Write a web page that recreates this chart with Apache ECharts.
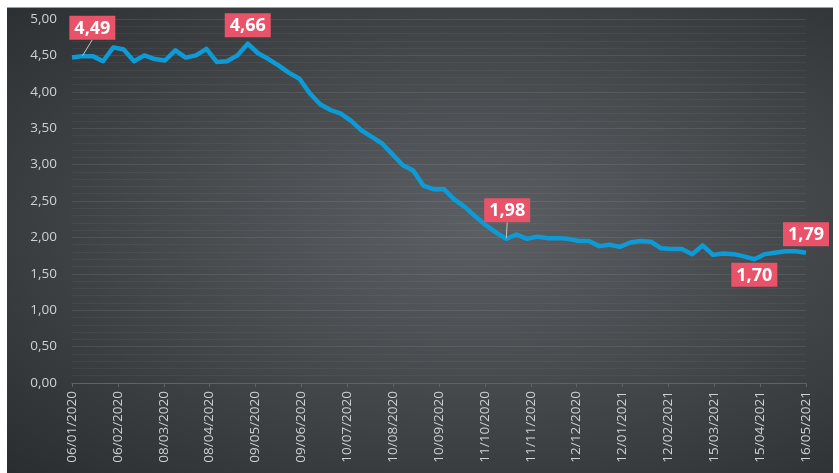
<!DOCTYPE html>
<html>
<head>
<meta charset="utf-8">
<script src="https://cdn.jsdelivr.net/npm/echarts@6/dist/echarts.min.js"></script>
<style>
  html, body { margin: 0; padding: 0; background: #fff; }
  #panel {
    position: absolute; left: 7px; top: 7px; width: 826px; height: 466px;
    border-top: 1px solid #a0a0a0;
    background: radial-gradient(ellipse at 57% 47%, #5b5f63 0%, #474a4d 45%, #2a2d30 100%);
  }
  #chart { position: absolute; left: 0; top: 0; width: 839px; height: 473px; }
</style>
</head>
<body>
<div id="panel"></div>
<div id="chart"></div>
<script>
// weekly values, first week starts 06/01/2020
const values = [
  4.47, 4.49, 4.49, 4.42, 4.61, 4.58, 4.42, 4.50, 4.45, 4.43,
  4.57, 4.47, 4.50, 4.59, 4.41, 4.42, 4.50, 4.66, 4.53, 4.45,
  4.36, 4.26, 4.18, 3.98, 3.83, 3.75, 3.70, 3.60, 3.47, 3.38,
  3.29, 3.14, 2.99, 2.92, 2.71, 2.66, 2.66, 2.52, 2.42, 2.29,
  2.17, 2.07, 1.98, 2.04, 1.98, 2.01, 1.99, 1.99, 1.98, 1.95,
  1.95, 1.88, 1.90, 1.87, 1.93, 1.95, 1.94, 1.85, 1.84, 1.84,
  1.77, 1.89, 1.76, 1.78, 1.77, 1.74, 1.70, 1.77, 1.79, 1.81,
  1.81, 1.79
];
const weeks = values.map((v, i) => "W" + (i + 1));
// points that get a value callout
const calloutIdx = [1, 17, 42, 66, 71];
// x tick labels every 31 days from the start date
const startDate = Date.UTC(2020, 0, 6);
const dayMax = 496;
const dayStep = 31;

const fmt = v => v.toFixed(2).replace(".", ",");

function dayLabel(d) {
  const t = new Date(startDate + d * 86400000);
  const dd = String(t.getUTCDate()).padStart(2, "0");
  const mm = String(t.getUTCMonth() + 1).padStart(2, "0");
  return dd + "/" + mm + "/" + t.getUTCFullYear();
}

function callout(i, v) {
  const label = {
    show: true,
    formatter: p => fmt(p.value),
    color: "#fff",
    fontSize: 18,
    fontWeight: "bold",
    fontFamily: "Open Sans, sans-serif",
    backgroundColor: "#e8536a",
    padding: [4, 5, 2, 5],
    position: "top",
    distance: 6,
  };
  let leader = false;
  if (i === 66) {
    label.position = "bottom";
    label.distance = 3;
  } else if (i === 1 || i === 42) {
    label.distance = 16;
    leader = true;
  }
  return {
    value: v,
    label: label,
    labelLine: { show: leader, lineStyle: { color: "#c4c4c4", width: 1 } },
  };
}

const seriesData = values.map((v, i) =>
  calloutIdx.includes(i) ? callout(i, v) : v
);

const chart = echarts.init(document.getElementById("chart"), null, { renderer: "canvas" });
chart.setOption({
  backgroundColor: "transparent",
  animation: false,
  textStyle: { fontFamily: "Open Sans, sans-serif" },
  grid: { left: 72, right: 33, top: 19, bottom: 90 },
  xAxis: [
    {
      type: "value",
      min: 0,
      max: dayMax,
      interval: dayStep,
      position: "bottom",
      splitLine: { show: false },
      axisLine: { show: true, lineStyle: { color: "#5f6367", width: 1 } },
      axisTick: { show: true, length: 4, lineStyle: { color: "#5f6367" } },
      axisLabel: {
        rotate: 90,
        color: "#cfd1d3",
        fontSize: 13.5,
        margin: 8,
        formatter: dayLabel,
      },
    },
    {
      type: "category",
      data: weeks,
      boundaryGap: false,
      show: false,
    },
  ],
  yAxis: {
    type: "value",
    min: 0,
    max: 5,
    interval: 0.5,
    axisLine: { show: false },
    axisTick: { show: false },
    axisLabel: {
      color: "#cfd1d3",
      fontSize: 13.5,
      margin: 15,
      formatter: fmt,
    },
    splitLine: { show: true, lineStyle: { color: "rgba(255,255,255,0.09)", width: 1 } },
    minorTick: { show: false, splitNumber: 5 },
    minorSplitLine: { show: true, lineStyle: { color: "rgba(255,255,255,0.045)", width: 1 } },
  },
  series: [
    {
      type: "line",
      xAxisIndex: 1,
      data: seriesData,
      symbol: "circle",
      symbolSize: 1,
      showSymbol: true,
      itemStyle: { color: "rgba(13,155,216,0)" },
      lineStyle: { color: "#0d9bd8", width: 4.5, join: "round" },
      label: { show: false },
      labelLine: { show: false },
      labelLayout: p => {
        if (p.dataIndex === 1) return { dx: 10 };
        if (p.dataIndex === 42) return { dx: 1 };
        return {};
      },
      z: 3,
    },
  ],
});
</script>
</body>
</html>
